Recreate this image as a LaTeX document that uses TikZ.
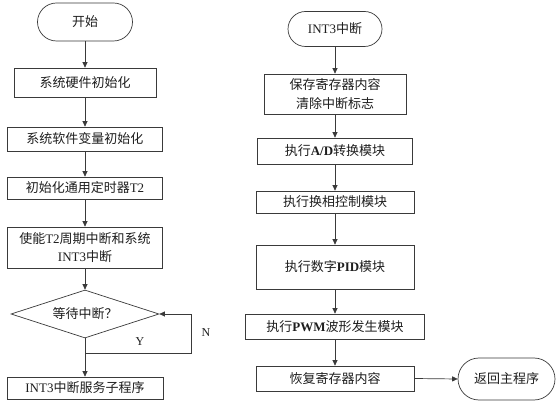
\documentclass[tikz,border=0pt]{standalone}
\usepackage{fontspec}
\setmainfont{Liberation Serif}
\newfontfamily\cjk{Noto Sans CJK SC}
\usetikzlibrary{arrows.meta,shapes.geometric,shapes.misc}
\definecolor{fcInk}{HTML}{1E1E1E}
\definecolor{fcLine}{HTML}{3A3A3A}
\tikzset{
 chart/.style={font=\cjk\fontsize{13}{18.5}\selectfont,text=fcInk,line join=miter},
 terminal/.style={rounded rectangle,draw=fcLine,fill=white,line width=.7pt,inner sep=0pt,align=center},
 proc/.style={rectangle,draw=fcLine,fill=white,line width=.7pt,inner sep=0pt,align=center},
 decide/.style={diamond,draw=fcLine,fill=white,line width=.7pt,inner sep=0pt,aspect=3},
 flow/.style={draw=fcLine,line width=.7pt,-{Triangle[length=5.5pt,width=5pt]}},
 lbl/.style={font=\rmfamily\fontsize{12}{14}\selectfont,inner sep=1pt}
}
\newcommand{\lat}[1]{{\rmfamily #1}}

\begin{document}
\begin{tikzpicture}[chart,x=1pt,y=-1pt]
 \useasboundingbox (0,0) rectangle (557,403);
 % main program
 \node[terminal,minimum width=95,minimum height=38] (start) at (85,22) {开始};
 \node[proc,minimum width=142,minimum height=29] (hw) at (85,82.5) {系统硬件初始化};
 \node[proc,minimum width=155,minimum height=24] (sw) at (85,139) {系统软件变量初始化};
 \node[proc,minimum width=155,minimum height=22] (tmr) at (85,188) {初始化通用定时器\lat{T2}};
 \node[proc,minimum width=155,minimum height=41] (en) at (85,247.5) {使能\lat{T2}周期中断和系统\\\lat{INT3}中断};
 \node[decide,minimum width=148,minimum height=48] (wait) at (85,314) {等待中断？};
 \node[proc,minimum width=156,minimum height=22] (isr) at (85,388) {\lat{INT3}中断服务子程序};
 \coordinate (split) at (85,353);
 \coordinate (turn) at (191,353);
 \foreach \a/\b in {start/hw,hw/sw,sw/tmr,tmr/en,en/wait,wait/isr}
  \draw[flow] (\a.south) -- (\b.north);
 \draw[flow] (split) -- (turn) |- (wait.east);
 \node[lbl] (yes) at (140,342) {Y};
 \node[lbl] (no) at (206,333) {N};
 % interrupt routine
 \node[terminal,minimum width=94,minimum height=35] (irq) at (335,29) {\lat{INT3}中断};
 \node[proc,minimum width=142,minimum height=40] (save) at (335,94) {保存寄存器内容\\清除中断标志};
 \node[proc,minimum width=155,minimum height=26] (adc) at (335,151) {执行\lat{\textbf{A/D}}转换模块};
 \node[proc,minimum width=158,minimum height=22] (comm) at (335,202) {执行换相控制模块};
 \node[proc,minimum width=158,minimum height=44] (pid) at (335,267) {执行数字\lat{\textbf{PID}}模块};
 \node[proc,minimum width=179,minimum height=25] (pwm) at (335,326.5) {执行\lat{\textbf{PWM}}波形发生模块};
 \node[proc,minimum width=158,minimum height=25] (rest) at (335,378.5) {恢复寄存器内容};
 \node[terminal,minimum width=97,minimum height=42] (ret) at (506.5,379) {返回主程序};
 \foreach \a/\b in {irq/save,save/adc,adc/comm,comm/pid,pid/pwm,pwm/rest}
  \draw[flow] (\a.south) -- (\b.north);
 \draw[flow] (rest.east) -- (ret.west);
\end{tikzpicture}
\end{document}
